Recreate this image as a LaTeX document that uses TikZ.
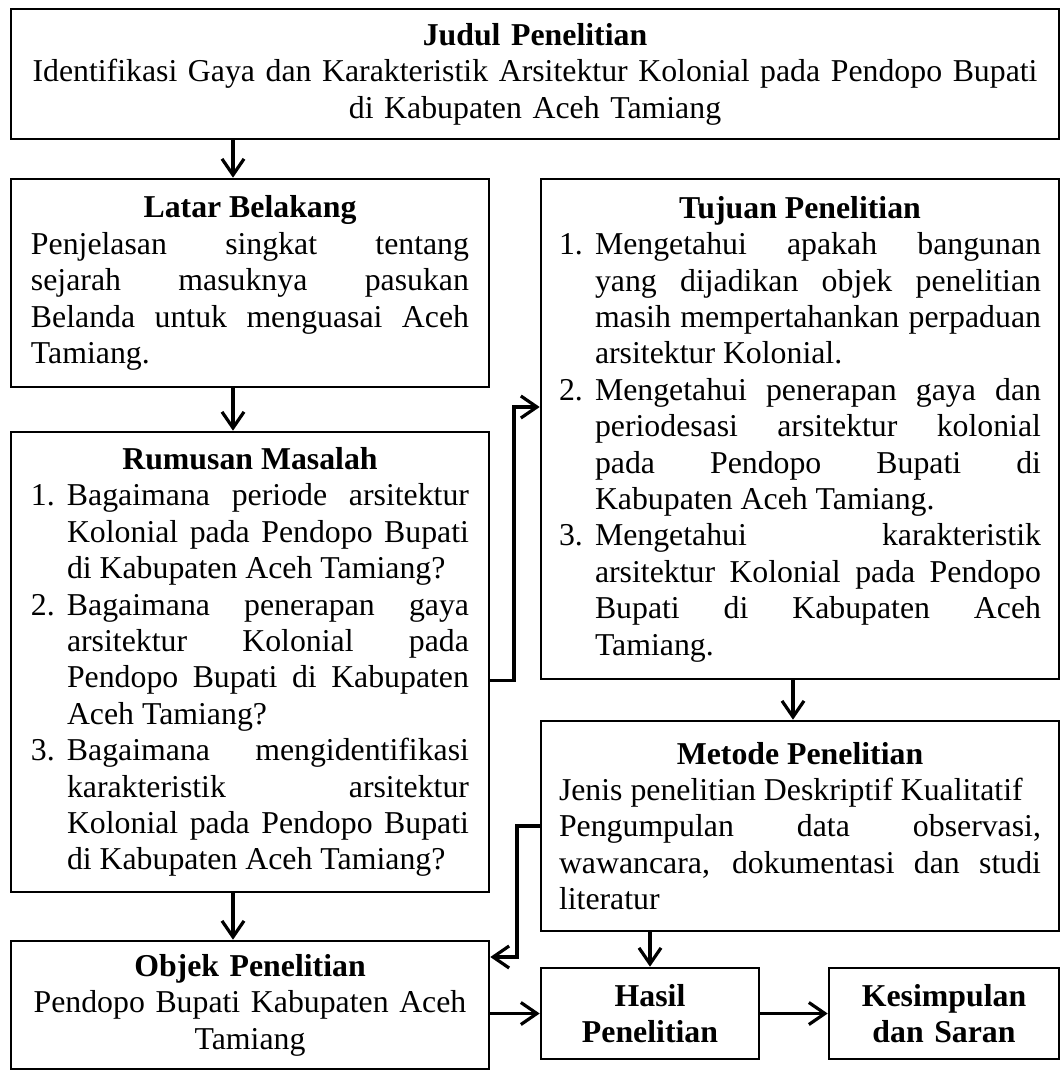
\documentclass[tikz,border=0pt]{standalone}
\usepackage{fontspec}
\setmainfont{Liberation Serif}
\usetikzlibrary{arrows.meta}
\setlength{\parindent}{0pt}
\hyphenpenalty=10000
\tolerance=10000
\newcommand{\kepala}[1]{{\centering\noindent\bfseries #1\par}}
\newcommand{\butir}[2]{\par\hangindent=18pt\hangafter=1\noindent\makebox[18pt][l]{#1}#2\par}

\begin{document}
\begin{tikzpicture}[x=0.5pt, y=-0.5pt, >={Straight Barb[length=8pt, width=11pt]},
    kotak/.style={draw, line width=1.3pt, inner xsep=10pt, inner ysep=0pt, align=justify,
      font=\fontsize{15.9}{18.2}\selectfont},
    kotaktengah/.style={kotak, align=center},
    panah/.style={->, line width=1.6pt}]
    \useasboundingbox (0,0) rectangle (1062,1071);

    \node[kotaktengah, text width=504pt, minimum height=65pt] (judul) at (535,74)
      {\textbf{Judul Penelitian}\\ Identifikasi Gaya dan Karakteristik Arsitektur Kolonial pada Pendopo Bupati\\ di Kabupaten Aceh Tamiang};

    \node[kotak, text width=219pt, minimum height=104pt] (latar) at (250,283)
      {\kepala{Latar Belakang}
       Penjelasan singkat tentang\linebreak sejarah masuknya pasukan\linebreak Belanda untuk menguasai Aceh\linebreak Tamiang.};

    \node[kotak, text width=219pt, minimum height=230pt] (rumusan) at (250,662)
      {\kepala{Rumusan Masalah}
       \butir{1.}{Bagaimana periode arsitektur\linebreak Kolonial pada Pendopo Bupati\linebreak di Kabupaten Aceh Tamiang?}
       \butir{2.}{Bagaimana penerapan gaya\linebreak arsitektur Kolonial pada\linebreak Pendopo Bupati di Kabupaten\linebreak Aceh Tamiang?}
       \butir{3.}{Bagaimana mengidentifikasi\linebreak karakteristik arsitektur\linebreak Kolonial pada Pendopo Bupati\linebreak di Kabupaten Aceh Tamiang?}};

    \node[kotaktengah, text width=219pt, minimum height=64pt] (objek) at (250,1005)
      {\textbf{Objek Penelitian}\\ Pendopo Bupati Kabupaten Aceh\\ Tamiang};

    \node[kotak, text width=241pt, inner xsep=9pt, minimum height=250pt] (tujuan) at (800,429)
      {\kepala{Tujuan Penelitian}
       \butir{1.}{Mengetahui apakah bangunan\linebreak yang dijadikan objek penelitian\linebreak masih mempertahankan perpaduan\linebreak arsitektur Kolonial.}
       \butir{2.}{Mengetahui penerapan gaya dan\linebreak periodesasi arsitektur kolonial\linebreak pada Pendopo Bupati di\linebreak Kabupaten Aceh Tamiang.}
       \butir{3.}{Mengetahui karakteristik\linebreak arsitektur Kolonial pada Pendopo\linebreak Bupati di Kabupaten Aceh\linebreak Tamiang.}};

    \node[kotak, text width=241pt, inner xsep=9pt, minimum height=105pt] (metode) at (800,826)
      {\kepala{Metode Penelitian}
       Jenis penelitian Deskriptif Kualitatif\par
       Pengumpulan data observasi,\linebreak wawancara, dokumentasi dan studi\linebreak literatur};

    \node[kotaktengah, text width=89pt, minimum height=45.5pt, font=\fontsize{15.9}{18.2}\selectfont\bfseries] (hasil) at (650,1013.5)
      {Hasil\\ Penelitian};
    \node[kotaktengah, text width=95pt, minimum height=45.5pt, font=\fontsize{15.9}{18.2}\selectfont\bfseries] (kesimpulan) at (944,1013.5)
      {Kesimpulan\\ dan Saran};

    % titik bantu untuk jalur panah
    \coordinate (kiri) at (233,0);
    \coordinate (kanan) at (793,0);
    \coordinate (siku1) at (514,407);
    \coordinate (siku2) at (517,957);

    \draw[panah] (judul.south -| kiri) -- (latar.north -| kiri);
    \draw[panah] (latar.south -| kiri) -- (rumusan.north -| kiri);
    \draw[panah] (rumusan.south -| kiri) -- (objek.north -| kiri);
    \draw[panah] (rumusan.east |- tujuan.south) -| (siku1) -- (siku1 -| tujuan.west);
    \draw[panah] (tujuan.south -| kanan) -- (metode.north -| kanan);
    \draw[panah] (metode.west) -| (siku2) -- (siku2 -| objek.east);
    \draw[panah] (metode.south -| hasil.north) -- (hasil.north);
    \draw[panah] (objek.east |- hasil.west) -- (hasil.west);
    \draw[panah] (hasil.east) -- (kesimpulan.west);
\end{tikzpicture}
\end{document}
